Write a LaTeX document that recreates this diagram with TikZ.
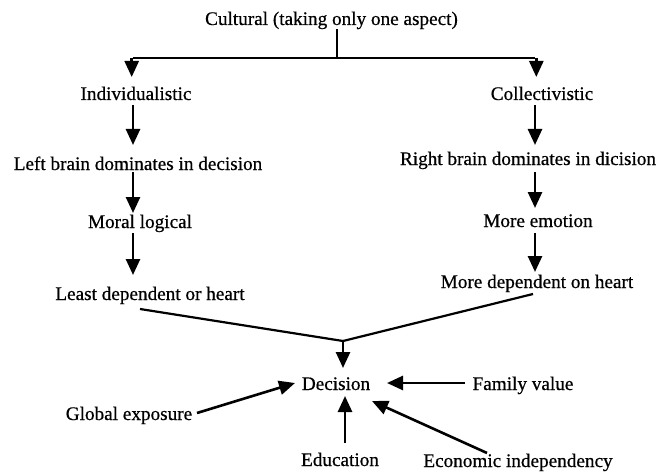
\documentclass[tikz,border=0pt]{standalone}
\usepackage{fontspec}
\setmainfont{Liberation Serif}
\usetikzlibrary{arrows.meta,calc}
\begin{document}
\begin{tikzpicture}[x=1pt,y=-1pt,
  lbl/.style={anchor=base, inner sep=0pt, font=\fontsize{19.2}{23}\selectfont\addfontfeature{FakeBold=0.6}},
  ln/.style={line width=2.2pt},
  arr/.style={line width=2.6pt, -{Triangle[width=14pt,length=16pt]}}]
\useasboundingbox (0,0) rectangle (660,473);
\node[lbl] (cult) at (331.5,25) {Cultural (taking only one aspect)};
\node[lbl] (ind) at (136,100) {Individualistic};
\node[lbl] (col) at (542,100) {Collectivistic};
\node[lbl] (lb) at (138,170) {Left brain dominates in decision};
\node[lbl] (rb) at (528,165) {Right brain dominates in dicision};
\node[lbl] (ml) at (140,228) {Moral logical};
\node[lbl] (me) at (538,227) {More emotion};
\node[lbl] (ld) at (150,300) {Least dependent or heart};
\node[lbl] (md) at (537,288) {More dependent on heart};
\node[lbl] (dec) at (336,390) {Decision};
\node[lbl] (ge) at (129,420) {Global exposure};
\node[lbl] (fv) at (523,390) {Family value};
\node[lbl] (edu) at (340,466) {Education};
\node[lbl] (eco) at (518,467) {Economic independency};

\coordinate (top) at (337,58);
\coordinate (L) at (133,58);
\coordinate (R) at (535,58);
\coordinate (J) at (343,341);

\draw[ln] (top |- cult.south) -- (top);
\draw[ln] (L) -- (R);
\draw[arr] ([xshift=-1.3pt]L) -- ++(0,19);
\draw[arr] ([xshift=1.3pt]R) -- ++(0,19);

\draw[arr] ($(L |- ind.base)+(0,5)$) -- ($(L |- lb.base)+(0,-25)$);
\draw[arr] ($(L |- lb.base)+(0,2)$) -- ($(L |- ml.base)+(0,-15)$);
\draw[arr] ($(L |- ml.base)+(0,5)$) -- ($(L |- ld.base)+(0,-25)$);

\draw[arr] ($(R |- col.base)+(0,5)$) -- ($(R |- rb.base)+(0,-20)$);
\draw[arr] ($(R |- rb.base)+(0,7)$) -- ($(R |- me.base)+(0,-19)$);
\draw[arr] ($(R |- me.base)+(0,6)$) -- ($(R |- md.base)+(0,-16)$);

\draw[ln] ($(ld.base)+(-10,9)$) -- (J);
\draw[ln] ($(md.base)+(-4,6)$) -- (J);
\draw[arr] (J) -- ($(J |- dec.base)+(0,-22)$);

\draw[arr] ($(ge.base)+(68,-7)$) -- ($(dec.base)+(-41,-7)$);
\draw[arr] ($(fv.base)+(-58,-7)$) -- ($(dec.base)+(51,-7)$);
\draw[arr] ($(edu.base)+(5,-23)$) -- ($(dec.base)+(9,6)$);
\draw[arr] ($(eco.base)+(-31,-14)$) -- ($(dec.base)+(36,11)$);
\end{tikzpicture}
\end{document}
